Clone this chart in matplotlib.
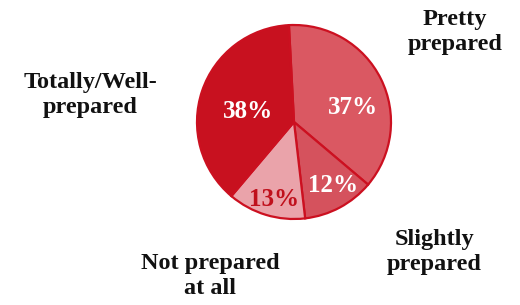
import matplotlib
matplotlib.use("Agg")
import matplotlib.pyplot as plt

categories = ["Pretty prepared", "Slightly prepared", "Not prepared at all", "Totally/Well-prepared"]
values = [37, 12, 13, 38]
pct_labels = ["37%", "12%", "13%", "38%"]
outer_labels = ["Pretty\nprepared", "Slightly\nprepared", "Not prepared\nat all", "Totally/Well-\nprepared"]

colors = ["#da5862", "#d5525d", "#eaa3aa", "#c8111f"]
pct_colors = ["white", "white", "#c0101c", "white"]

W, H = 520, 305
fig = plt.figure(figsize=(W / 100, H / 100), dpi=100)
ax = fig.add_axes([0, 0, 1, 1])

cx, cy, r = 294, H - 122, 97
wedges, _ = ax.pie(values, startangle=93, counterclock=False, colors=colors,
                   center=(cx, cy), radius=r,
                   wedgeprops=dict(edgecolor="#cc1020", linewidth=1.6))
ax.set_xlim(0, W)
ax.set_ylim(0, H)
ax.set_aspect("auto")
ax.axis("off")

serif = ["Liberation Serif", "DejaVu Serif"]
pct_pos = [(353, 108), (333, 186), (274, 199), (248, 112)]
for (x, y), t, c in zip(pct_pos, pct_labels, pct_colors):
    ax.text(x, H - y, t, ha="center", va="center", fontsize=18, fontweight="bold",
            color=c, family=serif)

outer_pos = [(455, 32), (434, 252), (210, 276), (90, 95)]
for (x, y), t in zip(outer_pos, outer_labels):
    ax.text(x, H - y, t, ha="center", va="center", fontsize=17.5, fontweight="bold",
            color="#111111", family=serif, linespacing=1.3)

fig.savefig("out.png", dpi=100)
